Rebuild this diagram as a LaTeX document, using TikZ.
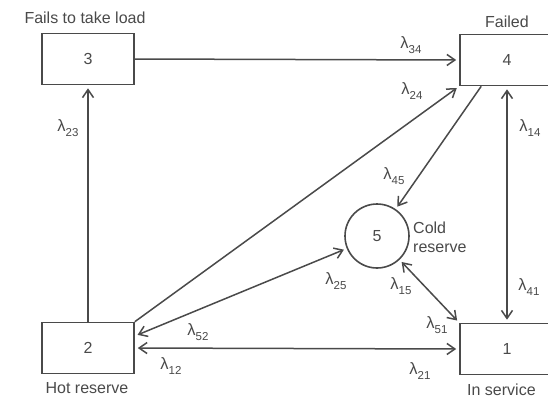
\documentclass[tikz,border=0pt]{standalone}
\usepackage{fontspec}
\setmainfont{Liberation Sans}
\usetikzlibrary{arrows.meta}

\definecolor{tinta}{HTML}{4A4A4A}
\newcommand{\lam}[1]{λ\raisebox{-0.55ex}{\fontsize{11.5}{12}\selectfont #1}}

\begin{document}
\begin{tikzpicture}[
	x=1pt, y=-1pt,
	caixa/.style={draw=tinta, line width=1.6pt, minimum width=92pt, minimum height=51pt, inner sep=0pt, text=tinta, font=\fontsize{16}{19}\selectfont},
	bola/.style={draw=tinta, line width=1.6pt, circle, minimum size=64pt, inner sep=0pt, text=tinta, font=\fontsize{16}{19}\selectfont},
	rotulo/.style={inner sep=0pt, text=tinta, font=\fontsize{16}{19}\selectfont},
	taxa/.style={inner sep=0pt, text=tinta, font=\fontsize{16.5}{18}\selectfont},
	seta/.style={draw=tinta, line width=1.5pt, -{Straight Barb[length=8pt,width=11pt]}, shorten >=3pt},
	dupla/.style={seta, {Straight Barb[length=8pt,width=11pt]}-{Straight Barb[length=8pt,width=11pt]}, shorten <=3pt}
	]
	\fill[white] (0,0) rectangle (548,400);
	\clip (0,0) rectangle (548,400);

	\node[caixa] (S3) at (88,59)  {3};
	\node[caixa, minimum width=94pt] (S4) at (507,60)  {4};
	\node[caixa] (S2) at (88,348) {2};
	\node[caixa, minimum width=94pt] (S1) at (507,349) {1};
	\node[bola]  (S5) at (377,236) {5};

	\node[rotulo] (t3) at (85,18)   {Fails to take load};
	\node[rotulo] (t4) at (507,22)  {Failed};
	\node[rotulo] (t2) at (87,388)  {Hot reserve};
	\node[rotulo, anchor=west] (t1) at (467,390) {In service};
	\node[rotulo, anchor=west, align=left] (t5) at (413,237) {Cold\\reserve};

	\coordinate (p4) at ([xshift=22pt]S4.south west);
	\coordinate (p2) at ([yshift=12pt]S2.east);

	\draw[seta] (S3.east) -- (S4.west);
	\draw[seta] (S2.north) -- (S3.south);
	\draw[seta] (S2.north east) -- (S4.south west);
	\draw[seta] (p4) -- (S5);
	\draw[dupla] (S4.south) -- (S1.north);
	\draw[dupla] (S5) -- (p2);
	\draw[dupla] (S5) -- (S1.north west);
	\draw[dupla] (S2.east) -- (S1.west);

	\node[taxa] (l34) at (411,45)  {\lam{34}};
	\node[taxa] (l24) at (412,91)  {\lam{24}};
	\node[taxa] (l14) at (530,128) {\lam{14}};
	\node[taxa] (l45) at (394,176) {\lam{45}};
	\node[taxa] (l23) at (68,128)  {\lam{23}};
	\node[taxa] (l25) at (336,281) {\lam{25}};
	\node[taxa] (l15) at (401,286) {\lam{15}};
	\node[taxa] (l41) at (529,287) {\lam{41}};
	\node[taxa] (l51) at (437,325) {\lam{51}};
	\node[taxa] (l52) at (198,332) {\lam{52}};
	\node[taxa] (l12) at (171,366) {\lam{12}};
	\node[taxa] (l21) at (420,371) {\lam{21}};
\end{tikzpicture}
\end{document}
